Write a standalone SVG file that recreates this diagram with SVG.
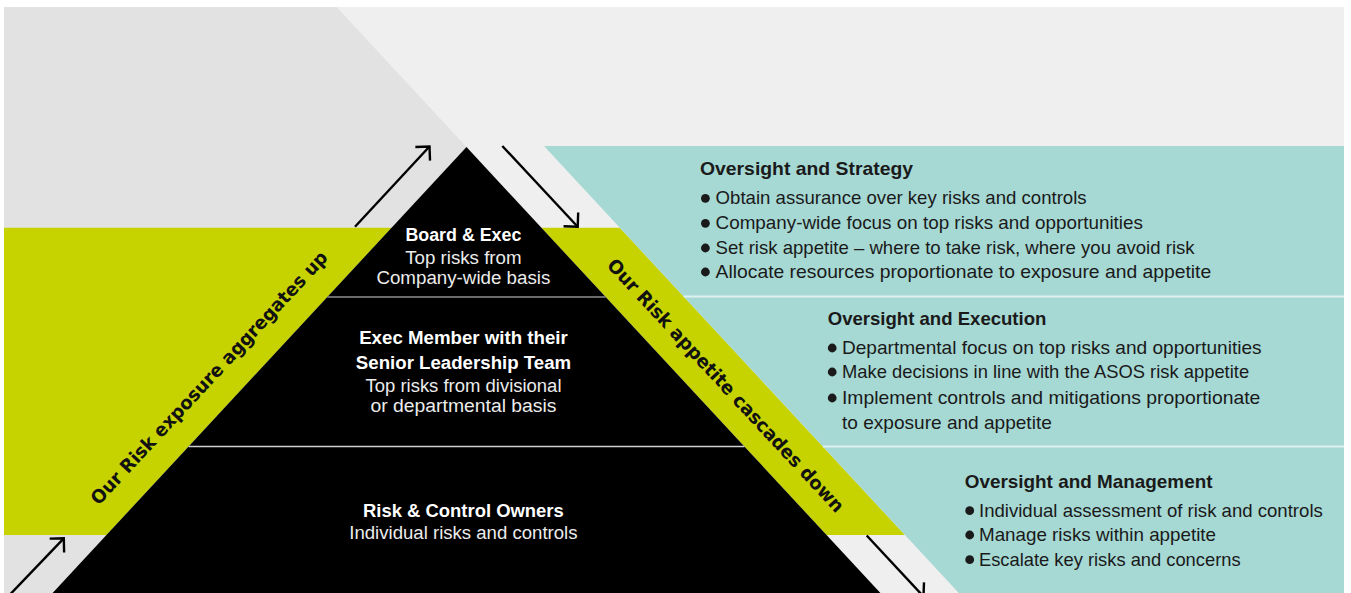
<svg xmlns="http://www.w3.org/2000/svg" width="1351" height="593" viewBox="0 0 1351 593">
  <defs>
    <!-- open chevron arrowhead, oriented along the line -->
    <marker id="chev" viewBox="-14 -14 28 28" markerWidth="28" markerHeight="28" markerUnits="userSpaceOnUse" refX="0" refY="0" orient="auto" overflow="visible">
      <path d="M-10 -10 L0 0 L-10 10" fill="none" stroke="#000" stroke-width="2.4"/>
    </marker>
    <style>
      .pt{font-family:"Liberation Sans",Arial,sans-serif;fill:#fff;text-anchor:middle}
      .pb{font-weight:700;font-size:17.5px}
      .pr{font-size:18px;fill:#ececec}
      .band{font-family:"DejaVu Sans",sans-serif;font-weight:700;font-size:18.6px;fill:#111;text-anchor:middle}
      .h{font-family:"Liberation Sans",Arial,sans-serif;font-weight:700;font-size:19px;fill:#1a1a1a}
      .b{font-family:"Liberation Sans",Arial,sans-serif;font-size:18.6px;fill:#1a1a1a}
      .dot{fill:#1a1a1a}
      .teal{fill:#a6d8d4}
      .tier{fill:#000}
      .lime{fill:#c6d300}
      .arr{fill:none;stroke:#000;stroke-width:2.4;marker-end:url(#chev)}
    </style>
  </defs>

  <rect width="1351" height="593" fill="#fff"/>

  <!-- backdrop: light field with darker wedge left of the pyramid line -->
  <g id="backdrop">
    <rect x="4" y="7" width="1340" height="586" fill="#efefef"/>
    <polygon points="4,7 336.6,7 466.5,147 52.6,593 4,593" fill="#e2e2e2"/>
    <polygon class="lime" points="4,227.7 391.6,227.7 106.4,535 4,535"/>
    <polygon class="lime" points="541.4,227.7 619.8,227.7 905,535 826.6,535"/>
  </g>

  <!-- right-hand panels -->
  <g id="panel-strategy">
    <polygon class="teal" points="544,146 1344,146 1344,296.5 683.7,296.5"/>
    <text class="h" x="700" y="175" textLength="213" lengthAdjust="spacingAndGlyphs">Oversight and Strategy</text>
    <circle class="dot" cx="705.4" cy="198.3" r="4.4"/>
    <text class="b" x="715.6" y="204.3" textLength="371" lengthAdjust="spacingAndGlyphs">Obtain assurance over key risks and controls</text>
    <circle class="dot" cx="705.4" cy="223.3" r="4.4"/>
    <text class="b" x="715.6" y="229.3" textLength="427.3" lengthAdjust="spacingAndGlyphs">Company-wide focus on top risks and opportunities</text>
    <circle class="dot" cx="705.4" cy="248" r="4.4"/>
    <text class="b" x="715.6" y="254" textLength="479" lengthAdjust="spacingAndGlyphs">Set risk appetite – where to take risk, where you avoid risk</text>
    <circle class="dot" cx="705.4" cy="272" r="4.4"/>
    <text class="b" x="715.6" y="278" textLength="495.6" lengthAdjust="spacingAndGlyphs">Allocate resources proportionate to exposure and appetite</text>
  </g>

  <g id="panel-execution">
    <polygon class="teal" points="683.7,296.5 1344,296.5 1344,446.5 822.9,446.5"/>
    <text class="h" x="827.7" y="325" textLength="218.7" lengthAdjust="spacingAndGlyphs">Oversight and Execution</text>
    <circle class="dot" cx="832.2" cy="348" r="4.4"/>
    <text class="b" x="842" y="354" textLength="419.6" lengthAdjust="spacingAndGlyphs">Departmental focus on top risks and opportunities</text>
    <circle class="dot" cx="832.2" cy="372" r="4.4"/>
    <text class="b" x="842" y="378" textLength="407.1" lengthAdjust="spacingAndGlyphs">Make decisions in line with the ASOS risk appetite</text>
    <circle class="dot" cx="832.2" cy="398" r="4.4"/>
    <text class="b" x="842" y="404" textLength="418.3" lengthAdjust="spacingAndGlyphs">Implement controls and mitigations proportionate</text>
    <text class="b" x="842" y="428.5" textLength="209.8" lengthAdjust="spacingAndGlyphs">to exposure and appetite</text>
  </g>

  <g id="panel-management">
    <polygon class="teal" points="822.9,446.5 1344,446.5 1344,593 958.8,593"/>
    <text class="h" x="964.7" y="488.3" textLength="247.8" lengthAdjust="spacingAndGlyphs">Oversight and Management</text>
    <circle class="dot" cx="969.7" cy="510.7" r="4.4"/>
    <text class="b" x="979" y="516.7" textLength="343.8" lengthAdjust="spacingAndGlyphs">Individual assessment of risk and controls</text>
    <circle class="dot" cx="969.7" cy="535" r="4.4"/>
    <text class="b" x="979" y="541" textLength="237" lengthAdjust="spacingAndGlyphs">Manage risks within appetite</text>
    <circle class="dot" cx="969.7" cy="559.7" r="4.4"/>
    <text class="b" x="979" y="565.7" textLength="261.6" lengthAdjust="spacingAndGlyphs">Escalate key risks and concerns</text>
  </g>

  <!-- pyramid tiers -->
  <g id="tier-board">
    <polygon class="tier" points="466.5,147 605.7,297 327.3,297"/>
    <text class="pt pb" x="463.4" y="241" textLength="116" lengthAdjust="spacingAndGlyphs">Board &amp; Exec</text>
    <text class="pt pr" x="463.4" y="263.5" textLength="116.4" lengthAdjust="spacingAndGlyphs">Top risks from</text>
    <text class="pt pr" x="463.4" y="284" textLength="174" lengthAdjust="spacingAndGlyphs">Company-wide basis</text>
  </g>

  <g id="tier-exec">
    <polygon class="tier" points="327.3,297 605.7,297 744.4,446.5 188.6,446.5"/>
    <text class="pt pb" x="463.5" y="344.3" textLength="208.7" lengthAdjust="spacingAndGlyphs">Exec Member with their</text>
    <text class="pt pb" x="463.5" y="369.3" textLength="215.3" lengthAdjust="spacingAndGlyphs">Senior Leadership Team</text>
    <text class="pt pr" x="463.5" y="392.3" textLength="196" lengthAdjust="spacingAndGlyphs">Top risks from divisional</text>
    <text class="pt pr" x="463.5" y="412.3" textLength="186" lengthAdjust="spacingAndGlyphs">or departmental basis</text>
  </g>

  <g id="tier-owners">
    <polygon class="tier" points="188.6,446.5 744.4,446.5 880.4,593 52.6,593"/>
    <text class="pt pb" x="463.4" y="516.5" textLength="200.8" lengthAdjust="spacingAndGlyphs">Risk &amp; Control Owners</text>
    <text class="pt pr" x="463.4" y="539" textLength="228.2" lengthAdjust="spacingAndGlyphs">Individual risks and controls</text>
  </g>

  <!-- dividers between tiers and panels -->
  <g id="dividers">
    <line x1="327.3" y1="297" x2="605.7" y2="297" stroke="#8e8e8e" stroke-width="1.5"/>
    <line x1="188.6" y1="446.5" x2="744.4" y2="446.5" stroke="#d0d0d0" stroke-width="1.5"/>
    <line x1="683.7" y1="296.5" x2="1344" y2="296.5" stroke="#dff1ef" stroke-width="2"/>
    <line x1="822.9" y1="446.5" x2="1344" y2="446.5" stroke="#dff1ef" stroke-width="2"/>
  </g>

  <!-- diagonal band labels -->
  <g id="band-labels">
    <text class="band" transform="translate(213.8 382.2) rotate(-47.1)" textLength="338" lengthAdjust="spacingAndGlyphs">Our Risk exposure aggregates up</text>
    <text class="band" transform="translate(721 389.8) rotate(47.1)" textLength="338" lengthAdjust="spacingAndGlyphs">Our Risk appetite cascades down</text>
  </g>

  <!-- flow arrows -->
  <g id="connectors">
    <path class="arr" d="M355 226.7 L429.5 146.5"/>
    <path class="arr" d="M502.3 146 L577.7 226.7"/>
    <path class="arr" d="M10.5 594 L63.8 538.3"/>
    <path class="arr" d="M866.7 535.5 L923.5 596.5"/>
  </g>
</svg>
